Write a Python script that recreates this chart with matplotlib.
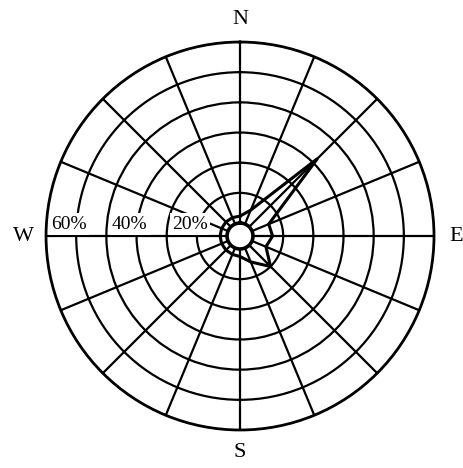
import numpy as np
import matplotlib
matplotlib.use("Agg")
import matplotlib.pyplot as plt
from matplotlib.transforms import offset_copy

# Wind directions (compass, clockwise from North) and frequency (%)
directions = ["N", "NNE", "NE", "ENE", "E", "ESE", "SE", "SSE",
              "S", "SSW", "SW", "WSW", "W", "WNW", "NW", "NNW"]
frequency = [2.3, 5.0, 32.0, 6.0, 6.5, 5.0, 10.0, 5.0,
             2.5, 2.3, 2.3, 2.3, 2.3, 2.3, 2.3, 2.3]
ring_values = [10, 20, 30, 40, 50]
ring_labels = ["20%", "40%", "60%"]
ring_label_pos = [12.3, 32.3, 52.3]
cardinal = ["N", "E", "S", "W"]

serif = "Liberation Serif"

fig = plt.figure(figsize=(4.63, 4.68), dpi=100)
ax = fig.add_axes([0.0994, 0.0812, 0.838, 0.829], projection="polar")
ax.set_theta_zero_location("N")
ax.set_theta_direction(-1)
ax.set_ylim(0, 60)
ax.set_rorigin(-4.3)

ax.set_thetagrids(np.arange(0, 360, 22.5), labels=[""] * 16)
ax.set_rgrids(ring_values, labels=[""] * len(ring_values))
ax.grid(True, color="black", linewidth=1.6)
ax.spines["polar"].set_linewidth(2.0)
ax.spines["inner"].set_linewidth(2.6)
ax.spines["inner"].set_color("black")
ax.tick_params(length=0)

theta = np.deg2rad(np.arange(16) * 22.5)
th = np.append(theta, theta[0])
fr = np.append(frequency, frequency[0])
ax.plot(th, fr, color="black", linewidth=2.2, zorder=4, solid_joinstyle="miter")

lab_tr = offset_copy(ax.transData, fig=fig, x=0, y=2.5, units="points")
for lab, r in zip(ring_labels, ring_label_pos):
    ax.text(np.deg2rad(270), r, lab, transform=lab_tr,
            ha="center", va="bottom", fontsize=14, family=serif, zorder=6,
            bbox=dict(facecolor="white", edgecolor="none", pad=1.5))

for lab, ang in zip(cardinal, [0, 90, 180, 270]):
    ax.text(np.deg2rad(ang), 67.5, lab, ha="center", va="center",
            fontsize=16, family=serif, clip_on=False)

fig.savefig("out.png", dpi=100, facecolor="white")
